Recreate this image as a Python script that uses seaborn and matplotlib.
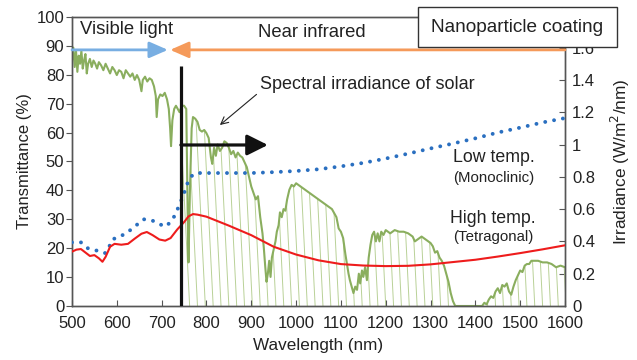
import numpy as np
import pandas as pd
import matplotlib
matplotlib.use("Agg")
import matplotlib.pyplot as plt
from matplotlib.collections import LineCollection
from matplotlib.patches import Rectangle
import seaborn as sns

# ---------------- data ----------------
solar_wl = [500, 503, 506, 509, 512, 515, 518, 521, 524, 527, 530, 533, 536, 540, 544, 548, 552, 556, 560, 565,
            570, 575, 580, 585, 590, 595, 600, 605, 610, 615, 620, 625, 630, 635, 640, 645, 650, 655, 658, 663,
            668, 673, 678, 683, 687, 689, 692, 697, 702, 707, 712, 716, 719, 721, 724, 728, 732, 736, 740, 745,
            750, 755, 758, 760, 763, 767, 770, 775, 780, 785, 790, 795, 800, 805, 810, 813, 817, 821, 825, 830,
            835, 840, 845, 850, 855, 860, 865, 870, 875, 880, 885, 890, 895, 900, 905, 910, 915, 920, 925, 928,
            931, 934, 937, 940, 943, 946, 950, 954, 957, 961, 964, 968, 972, 976, 980, 985, 990, 995, 1000, 1010,
            1020, 1030, 1040, 1050, 1060, 1070, 1080, 1090, 1095, 1100, 1105, 1110, 1113, 1117, 1120, 1124, 1128,
            1132, 1136, 1140, 1143, 1147, 1150, 1154, 1158, 1162, 1166, 1170, 1174, 1178, 1182, 1186, 1190, 1195,
            1200, 1210, 1220, 1230, 1240, 1250, 1260, 1265, 1270, 1280, 1290, 1300, 1305, 1310, 1315, 1320, 1325,
            1330, 1335, 1340, 1345, 1350, 1355, 1400, 1415, 1420, 1425, 1430, 1435, 1440, 1445, 1450, 1455, 1460,
            1465, 1470, 1475, 1480, 1485, 1490, 1495, 1500, 1505, 1510, 1515, 1520, 1525, 1530, 1540, 1550, 1560,
            1570, 1580, 1590, 1600]
solar_irr = [1.52, 1.60, 1.48, 1.58, 1.45, 1.55, 1.50, 1.58, 1.47, 1.52, 1.56, 1.44, 1.50, 1.53, 1.48, 1.52, 1.50, 1.47, 1.51, 1.49,
             1.46, 1.50, 1.47, 1.44, 1.48, 1.46, 1.43, 1.46, 1.45, 1.41, 1.46, 1.44, 1.42, 1.44, 1.40, 1.43, 1.40, 1.33, 1.40, 1.42,
             1.39, 1.41, 1.40, 1.36, 1.30, 1.17, 1.28, 1.31, 1.30, 1.32, 1.28, 1.22, 1.10, 0.99, 1.15, 1.22, 1.24, 1.22, 1.20, 1.24,
             1.24, 1.22, 0.60, 0.27, 0.70, 1.10, 1.17, 1.16, 1.14, 1.09, 1.08, 1.09, 1.07, 1.04, 0.92, 0.88, 0.98, 0.93, 1.00, 0.96,
             0.98, 1.02, 1.01, 0.98, 0.94, 0.96, 0.92, 0.95, 0.93, 0.92, 0.89, 0.86, 0.80, 0.74, 0.70, 0.66, 0.68, 0.55, 0.45, 0.36,
             0.25, 0.15, 0.20, 0.28, 0.18, 0.30, 0.35, 0.40, 0.46, 0.50, 0.58, 0.55, 0.60, 0.59, 0.66, 0.72, 0.75, 0.74, 0.76, 0.74,
             0.72, 0.70, 0.68, 0.66, 0.64, 0.62, 0.60, 0.55, 0.48, 0.46, 0.42, 0.32, 0.27, 0.20, 0.16, 0.12, 0.08,
             0.12, 0.10, 0.20, 0.14, 0.22, 0.18, 0.24, 0.16, 0.30, 0.38, 0.44, 0.46, 0.40, 0.45, 0.40, 0.46, 0.44,
             0.47, 0.45, 0.47, 0.46, 0.46, 0.45, 0.43, 0.40, 0.41, 0.43, 0.41, 0.39, 0.37, 0.33, 0.34, 0.30, 0.28,
             0.25, 0.20, 0.15, 0.08, 0.03, 0.00, 0.00, 0.00, 0.02, 0.01, 0.04, 0.06, 0.05, 0.09, 0.11, 0.08, 0.13,
             0.12, 0.14, 0.09, 0.07, 0.12, 0.16, 0.19, 0.22, 0.21, 0.25, 0.26, 0.26, 0.28, 0.28, 0.28, 0.27, 0.27,
             0.26, 0.24, 0.25, 0.24]

low_wl = [500, 520, 535, 550, 565, 575, 583, 590, 605, 620, 640, 660, 680, 700, 710, 725, 740, 750, 760, 770, 780,
          800, 850, 900, 950, 1000, 1050, 1100, 1150, 1200, 1250, 1300, 1350, 1400, 1450, 1500, 1550, 1600]
low_T = [22, 22, 20, 19.5, 18.5, 18.3, 20.5, 23, 24, 25, 27.5, 30, 29.5, 28, 27.5, 30, 35, 39, 43.5, 45.5, 46,
         46, 46, 46, 46.3, 46.7, 47.3, 48.3, 49.5, 51, 52.7, 54.5, 56.2, 58, 60, 61.7, 63.5, 65]

high_wl = [500, 510, 520, 530, 540, 550, 560, 568, 575, 585, 595, 610, 625, 640, 655, 667, 680, 695, 708, 720, 735,
           750, 760, 770, 780, 800, 850, 900, 950, 1000, 1050, 1100, 1150, 1200, 1250, 1300, 1350, 1400, 1450,
           1500, 1550, 1600]
high_T = [18.8, 19.5, 19.7, 18.5, 17.3, 17.6, 16.5, 15.3, 17, 20.5, 21.5, 21.2, 21.5, 23.3, 25, 25.6, 24.5, 23, 22.6,
          23.5, 26.5, 29, 31, 31.8, 31.6, 30.9, 27.8, 24.5, 20.5, 17.8, 15.8, 14.5, 14, 13.8, 13.9, 14.4, 15.2, 16,
          17.1, 18.3, 19.6, 21]

x_ticks = [500, 600, 700, 800, 900, 1000, 1100, 1200, 1300, 1400, 1500, 1600]
y_ticks = [0, 10, 20, 30, 40, 50, 60, 70, 80, 90, 100]
y2_ticks = [0, 0.2, 0.4, 0.6, 0.8, 1.0, 1.2, 1.4, 1.6]
y2_labels = ["0", "0.2", "0.4", "0.6", "0.8", "1", "1.2", "1.4", "1.6"]

boundary_wl = 743       # black vertical marker
visible_end = 714       # visible-light arrow tip
nir_end = 719           # near-infrared arrow tip

solar_df = pd.DataFrame({"wl": solar_wl, "irr": solar_irr})
low_df = pd.DataFrame({"wl": low_wl, "T": low_T})
high_df = pd.DataFrame({"wl": high_wl, "T": high_T})

# ---------------- style ----------------
sns.set_style("ticks")
plt.rcParams["font.family"] = ["Liberation Sans", "DejaVu Sans"]
plt.rcParams["font.size"] = 12
SPINE = "#555555"
GREEN = "#8aae5e"
HATCH = "#b9d197"
TXT = "#222222"

fig = plt.figure(figsize=(6.37, 3.6), dpi=100)
ax = fig.add_axes([0.113, 0.15, 0.774, 0.803])
ax2 = ax.twinx()

# solar irradiance (right axis)
sns.lineplot(data=solar_df, x="wl", y="irr", ax=ax2, color=GREEN, lw=1.5, zorder=2)
mask = solar_df["wl"] >= boundary_wl
poly = ax2.fill_between(solar_df["wl"][mask], 0, solar_df["irr"][mask], color="none", lw=0)
# slanted hatching inside the region
k = 18.0
segs = []
xb = boundary_wl + 2
while xb < 1650:
    segs.append([(xb, 0), (xb - k * 1.8, 1.8)])
    xb += 17.5
lc = LineCollection(segs, colors=HATCH, linewidths=0.7, zorder=1)
ax2.add_collection(lc)
lc.set_clip_path(poly.get_paths()[0], ax2.transData)

# transmittance (left axis), drawn in front
ax.set_zorder(ax2.get_zorder() + 1)
ax.patch.set_visible(False)
sns.lineplot(data=low_df, x="wl", y="T", ax=ax, color="#2a6fc0", lw=2.8,
             linestyle=(0, (0.01, 2.3)), dash_capstyle="round", zorder=3)
sns.lineplot(data=high_df, x="wl", y="T", ax=ax, color="#ee1c1c", lw=1.5, zorder=3)

# black boundary + arrow
ax.plot([boundary_wl, boundary_wl], [0, 83], color="#111111", lw=2.3, zorder=5, solid_capstyle="butt")
ax.annotate("", xy=(937, 55.7), xytext=(boundary_wl, 55.7),
            arrowprops=dict(arrowstyle="-|>,head_length=0.7,head_width=0.35", color="#111111", lw=2.3,
                            mutation_scale=18, shrinkA=0, shrinkB=0), zorder=5)

# visible / NIR arrows
ax.annotate("", xy=(visible_end, 88.6), xytext=(500, 88.6),
            arrowprops=dict(arrowstyle="-|>,head_length=0.8,head_width=0.35", color="#78aee2", lw=2,
                            mutation_scale=14, shrinkA=0, shrinkB=0), zorder=4)
ax.annotate("", xy=(nir_end, 88.6), xytext=(1600, 88.6),
            arrowprops=dict(arrowstyle="-|>,head_length=0.8,head_width=0.35", color="#f59a5a", lw=2,
                            mutation_scale=14, shrinkA=0, shrinkB=0), zorder=4)

ax.text(518, 95.5, "Visible light", ha="left", va="center", fontsize=13.3, color=TXT)
ax.text(1035, 94.5, "Near infrared", ha="center", va="center", fontsize=13.3, color=TXT)
ax.annotate("Spectral irradiance of solar", xy=(830, 62.6), xytext=(919, 76.5),
            ha="left", va="center", fontsize=13, color=TXT,
            arrowprops=dict(arrowstyle="->", color=TXT, lw=0.8, shrinkA=0, shrinkB=0,
                            relpos=(0, 0.1)))
ax.text(1442, 51.2, "Low temp.", ha="center", va="center", fontsize=12.8, color=TXT)
ax.text(1442, 44.4, "(Monoclinic)", ha="center", va="center", fontsize=10.8, color=TXT)
ax.text(1440, 30.4, "High temp.", ha="center", va="center", fontsize=12.8, color=TXT)
ax.text(1440, 23.7, "(Tetragonal)", ha="center", va="center", fontsize=10.8, color=TXT)

# axes
ax.set_xlim(500, 1600)
ax.set_ylim(0, 100)
ax2.set_ylim(0, 1.79)
ax.set_xticks(x_ticks)
ax.set_yticks(y_ticks)
ax2.set_yticks(y2_ticks)
ax2.set_yticklabels(y2_labels)
ax.set_xlabel("Wavelength (nm)", fontsize=12.3, labelpad=5, color=TXT)
ax.set_ylabel("Transmittance (%)", fontsize=12, labelpad=3, color=TXT)
ax2.set_ylabel("Irradiance (W/m$^2$/nm)", fontsize=12.4, labelpad=10, color=TXT)
for a in (ax, ax2):
    for s in a.spines.values():
        s.set_color(SPINE)
        s.set_linewidth(1.0)
ax.tick_params(axis="y", direction="out", length=4, color=SPINE, labelsize=12, pad=1.5, labelcolor=TXT)
ax.tick_params(axis="x", direction="in", length=4, color=SPINE, labelsize=12, pad=7, labelcolor=TXT)
ax2.tick_params(axis="y", direction="in", length=4, color=SPINE, labelsize=12, pad=5, labelcolor=TXT)

# title box
fig.add_artist(Rectangle((418 / 637, 1 - 47 / 360), 199 / 637, 40 / 360, transform=fig.transFigure,
                         fc="white", ec="#333333", lw=1.0, zorder=10))
fig.text(517.5 / 637, 1 - 27 / 360, "Nanoparticle coating", ha="center", va="center",
         fontsize=13.7, color=TXT, zorder=11)

fig.savefig("out.png", dpi=100)
